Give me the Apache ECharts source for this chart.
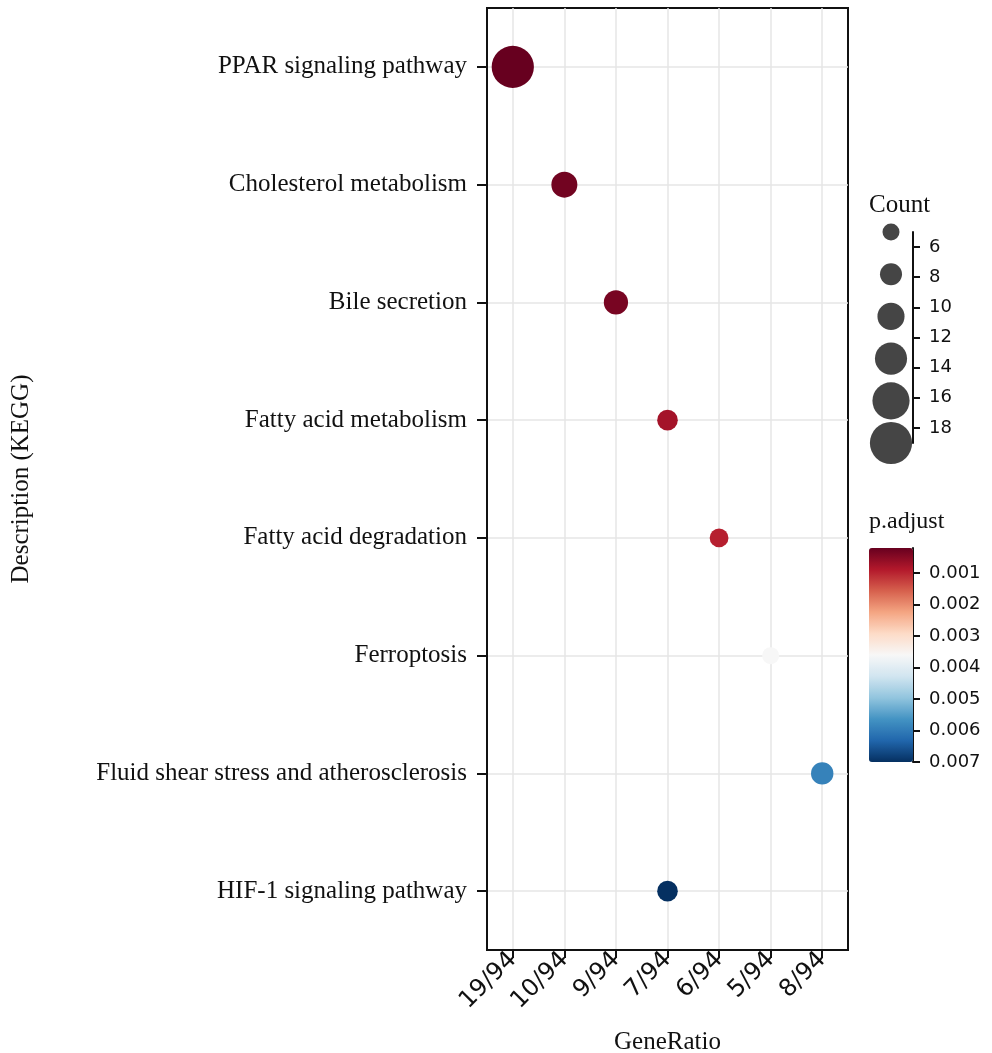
<!DOCTYPE html>
<html>
<head>
<meta charset="utf-8">
<title>KEGG enrichment dot plot</title>
<script src="https://cdn.jsdelivr.net/npm/echarts@6/dist/echarts.min.js"></script>
<style>
  html, body { margin: 0; padding: 0; background: #ffffff; }
  #chart { width: 992px; height: 1053px; }
</style>
</head>
<body>
<div id="chart"></div>
<script>
// KEGG pathways, top to bottom
const pathways = [
  'PPAR signaling pathway',
  'Cholesterol metabolism',
  'Bile secretion',
  'Fatty acid metabolism',
  'Fatty acid degradation',
  'Ferroptosis',
  'Fluid shear stress and atherosclerosis',
  'HIF-1 signaling pathway'
];
// GeneRatio order along the x axis
const ratioCategories = ['19/94', '10/94', '9/94', '7/94', '6/94', '5/94', '8/94'];
// Per-pathway values
const geneRatio = ['19/94', '10/94', '9/94', '7/94', '6/94', '5/94', '8/94', '7/94'];
const geneCount = [19, 10, 9, 7, 6, 5, 8, 7];
const pAdjust = [0.0002, 0.0003, 0.00035, 0.00075, 0.00095, 0.0036, 0.0059, 0.007];
// Reference sizes shown in the Count legend
const countLegend = [5, 7.8, 10.6, 13.4, 16.2, 19];

const SERIF = 'Liberation Serif';
const SANS = 'DejaVu Sans';
const INK = '#111111';
// RdBu, low p (red) to high p (blue)
const rdbu = ['#67001f', '#b2182b', '#d6604d', '#f4a582', '#fddbc7', '#f7f7f7',
              '#d1e5f0', '#92c5de', '#4393c3', '#2166ac', '#053061'];

const pMin = Math.min(...pAdjust);
const pMax = Math.max(...pAdjust);
const sizeOf = c => 17 + 1.8 * (c - 5);

const dots = pathways.map((name, i) => [geneRatio[i], name, geneCount[i], pAdjust[i]]);

const chart = echarts.init(document.getElementById('chart'), null, { renderer: 'canvas' });

const legendAxis = {
  type: 'value', position: 'right', inverse: true,
  axisLine: { show: true, onZero: false, lineStyle: { color: INK, width: 2 } },
  axisTick: { show: true, inside: false, length: 7, lineStyle: { color: INK, width: 2 } },
  splitLine: { show: false }
};

chart.setOption({
  backgroundColor: '#ffffff',
  animation: false,
  grid: [
    { left: 487, top: 8, width: 361, height: 942, show: true, outerBoundsMode: 'none',
      borderColor: INK, borderWidth: 2, backgroundColor: 'transparent' },
    { left: 869, top: 232, width: 44, height: 211, outerBoundsMode: 'none' },
    { left: 869, top: 548, width: 44, height: 214, outerBoundsMode: 'none' }
  ],
  xAxis: [
    {
      gridIndex: 0, type: 'category', data: ratioCategories,
      name: 'GeneRatio', nameLocation: 'middle', nameGap: 80,
      nameTextStyle: { fontFamily: SERIF, fontSize: 25, color: INK },
      axisLine: { show: true, lineStyle: { color: INK, width: 2 } },
      axisTick: { show: true, alignWithLabel: true, length: 8, lineStyle: { color: INK, width: 2 } },
      axisLabel: { rotate: 45, fontFamily: SANS, fontSize: 24, color: INK, margin: 6, interval: 0 },
      splitLine: { show: true, alignWithLabel: true, lineStyle: { color: '#e6e6e6', width: 1.5 } }
    },
    { gridIndex: 1, type: 'value', min: 0, max: 1, show: false },
    { gridIndex: 2, type: 'value', min: 0, max: 1, show: false }
  ],
  yAxis: [
    {
      gridIndex: 0, type: 'category', data: pathways, inverse: true,
      name: 'Description (KEGG)', nameLocation: 'middle', nameGap: 453, nameRotate: 90,
      nameTextStyle: { fontFamily: SERIF, fontSize: 25, color: INK },
      axisLine: { show: true, lineStyle: { color: INK, width: 2 } },
      axisTick: { show: true, alignWithLabel: true, length: 10, lineStyle: { color: INK, width: 2 } },
      axisLabel: { fontFamily: SERIF, fontSize: 25, color: INK, margin: 20, interval: 0 },
      splitLine: { show: true, alignWithLabel: true, lineStyle: { color: '#e6e6e6', width: 1.5 } }
    },
    Object.assign({}, legendAxis, {
      gridIndex: 1, min: 5, max: 19, minInterval: 2, maxInterval: 2,
      name: 'Count', nameLocation: 'start', nameGap: 14,
      nameTextStyle: { fontFamily: SERIF, fontSize: 25, color: INK, align: 'left', padding: [0, 0, 0, -44] },
      axisLabel: { fontFamily: SANS, fontSize: 18, color: INK, margin: 16, showMinLabel: false, showMaxLabel: false }
    }),
    Object.assign({}, legendAxis, {
      gridIndex: 2, min: pMin, max: pMax, minInterval: 0.001, maxInterval: 0.001,
      name: 'p.adjust', nameLocation: 'start', nameGap: 14,
      nameTextStyle: { fontFamily: SERIF, fontSize: 24, color: INK, align: 'left', padding: [0, 0, 0, -44] },
      axisLabel: { fontFamily: SANS, fontSize: 18, color: INK, margin: 16, showMinLabel: false,
                   formatter: v => v.toFixed(3) }
    })
  ],
  visualMap: {
    type: 'continuous',
    seriesIndex: 0,
    dimension: 3,
    min: pMin,
    max: pMax,
    inverse: true,
    calculable: false,
    hoverLink: false,
    orient: 'vertical',
    left: 869,
    top: 548,
    padding: 0,
    itemWidth: 44,
    itemHeight: 214,
    text: null,
    inRange: { color: rdbu }
  },
  series: [
    {
      name: 'KEGG',
      type: 'scatter',
      xAxisIndex: 0, yAxisIndex: 0,
      data: dots,
      encode: { x: 0, y: 1 },
      symbolSize: d => sizeOf(d[2]),
      itemStyle: { opacity: 1 },
      z: 5
    },
    {
      name: 'Count legend',
      type: 'scatter',
      xAxisIndex: 1, yAxisIndex: 1,
      data: countLegend.map(c => [0.5, c]),
      symbolSize: d => sizeOf(d[1]),
      itemStyle: { color: '#454545', opacity: 1 },
      silent: true
    }
  ]
});
</script>
</body>
</html>
